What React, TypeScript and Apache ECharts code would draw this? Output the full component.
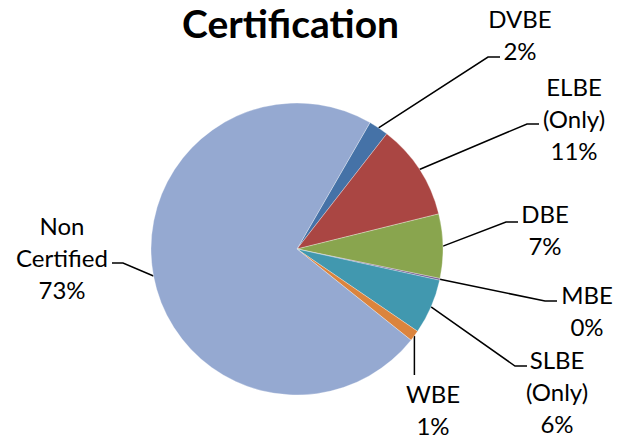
import React, { useEffect, useRef } from "react";
import * as echarts from "echarts";

const categories = ["DVBE", "ELBE (Only)", "DBE", "MBE", "SLBE (Only)", "WBE", "Non Certified"];
const values = [2.2, 10.6, 7.1, 0.2, 6.1, 1.2, 72.6];
const colors = ["#4572A7", "#AA4643", "#89A54E", "#71588F", "#4198AF", "#DB843D", "#95A9D1"];
const titleText = "Certification";

// label placement (layout only): centre of text block and end of leader line
const labelLayout = [
  { x: 520, y: 34, ex: 500, ey: 57, side: "right" },
  { x: 574, y: 118, ex: 539, ey: 124, side: "right" },
  { x: 545, y: 229, ex: 518, ey: 222, side: "right" },
  { x: 587, y: 310, ex: 557, ey: 301, side: "right" },
  { x: 557, y: 391, ex: 527, ey: 366, side: "right" },
  { x: 433, y: 409, ex: 416, ey: 375, side: "down" },
  { x: 62, y: 257, ex: 112, ey: 263, side: "left" },
];

export default function App() {
  const ref = useRef<HTMLDivElement>(null);
  useEffect(() => {
    if (!ref.current) return;
    const chart = echarts.init(ref.current, undefined, { renderer: "svg" });
    const FONT = "Lato, 'Open Sans', sans-serif";
    chart.setOption({
      animation: false,
      backgroundColor: "#ffffff",
      title: {
        text: titleText,
        left: 182,
        top: 2,
        padding: 0,
        textStyle: { fontFamily: FONT, fontWeight: "bold", fontSize: 39, lineHeight: 42, color: "#000" },
      },
      series: [
        {
          type: "pie",
          center: [297, 249],
          radius: 146,
          startAngle: 60,
          clockwise: true,
          avoidLabelOverlap: false,
          data: categories.map((c, i) => ({ name: c, value: values[i], itemStyle: { color: colors[i] } })),
          itemStyle: { borderColor: "rgba(255,255,255,0.5)", borderWidth: 0.6 },
          label: {
            show: true,
            position: "outside",
            fontFamily: FONT,
            fontSize: 24,
            lineHeight: 32,
            color: "#000",
            align: "center",
            formatter: (p: any) => p.name.split(" ").join("\n") + "\n" + Math.round(p.percent) + "%",
          },
          labelLine: { show: true, length: 20, length2: 10, lineStyle: { color: "#000", width: 1.5 } },
          labelLayout: (p: any) => {
            const L = labelLayout[p.dataIndex];
            const a = p.labelLinePoints ? p.labelLinePoints[0] : [L.ex, L.ey];
            let pts: number[][];
            if (L.side === "down") pts = [a, [a[0], L.ey]];
            else if (L.side === "left") pts = [a, [L.ex + 11, L.ey], [L.ex, L.ey]];
            else pts = [a, [L.ex - 12, L.ey], [L.ex, L.ey]];
            return { x: L.x, y: L.y, align: "center", verticalAlign: "middle", labelLinePoints: pts };
          },
        },
      ],
    });
    return () => chart.dispose();
  }, []);
  return <div ref={ref} style={{ position: "absolute", left: 0, top: 0, width: 624, height: 438 }} />;
}
